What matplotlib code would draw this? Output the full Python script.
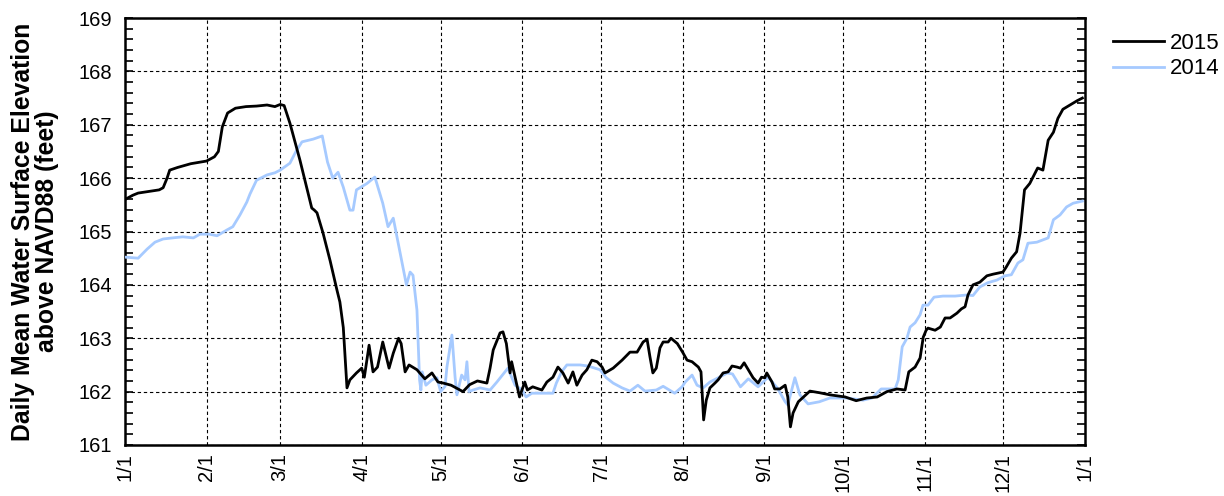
import matplotlib
matplotlib.use("Agg")
import matplotlib.pyplot as plt
from matplotlib.ticker import MultipleLocator
import numpy as np

plt.rcParams['font.family'] = ['Liberation Sans', 'DejaVu Sans']

# Day-of-year positions and values
days_2015 = [0, 3, 5, 9, 13, 14.5, 16, 17, 20, 25, 31, 34, 35.5, 37, 39, 42, 46, 50, 54, 57, 59, 60.5,
             62.7, 66.5, 71, 72, 73, 75.3, 78, 80.6, 81.7, 83, 84.4, 85.5, 88, 90, 91, 92.8, 94.3, 96,
             98, 100.4, 102, 104, 105, 106.5, 108, 111, 114, 116.7, 119, 121, 124, 128.5, 131, 134,
             137.6, 138.8, 140, 142.6, 143.7, 145, 146.4, 147, 148.3, 150, 152, 153, 155, 158.5, 160.4,
             162.7, 164.6, 166.5, 168.5, 170.3, 171.8, 173.8, 175.6, 177.5, 179.5, 181.4, 182.5, 185.6,
             189, 192, 194.7, 197, 198.5, 199.6, 200.7, 202, 203.4, 204.6, 206.5, 207.6, 210, 212,
             213.7, 215.6, 218, 219, 220, 221, 222.4, 224.3, 225.5, 227.4, 229.3, 230.8, 232.7, 234,
             235.4, 237, 238.8, 240.7, 242, 243.3, 244, 246, 247, 249, 251, 252, 253, 254, 256, 258,
             260.4, 264, 268, 273.8, 278, 282, 286, 289.7, 293.5, 296.6, 298, 300.4, 302.3, 303.5,
             304.6, 305.3, 308, 310, 311.8, 313.7, 316.3, 318, 319.4, 320.5, 322.4, 325, 327.7, 330,
             333.8, 335, 337, 339, 340.3, 342, 344, 347, 349, 351, 353, 354.7, 356.6, 359.3, 362, 364]
elev_2015 = [165.6, 165.68, 165.72, 165.75, 165.78, 165.82, 166.0, 166.15, 166.2, 166.27, 166.32, 166.4,
             166.5, 166.96, 167.22, 167.31, 167.34, 167.35, 167.37, 167.34, 167.38, 167.36,
             167.03, 166.34, 165.44, 165.4, 165.35, 164.97, 164.45, 163.9, 163.68, 163.2, 162.07, 162.22,
             162.35, 162.44, 162.27, 162.87, 162.37, 162.46,
             162.93, 162.44, 162.72, 163.0, 162.9, 162.37, 162.5, 162.41, 162.24, 162.35, 162.18, 162.16,
             162.12, 162.0, 162.13, 162.2,
             162.16, 162.44, 162.78, 163.1, 163.12, 162.9, 162.35, 162.56, 162.27, 161.9, 162.18, 162.03,
             162.09, 162.03, 162.18,
             162.27, 162.46, 162.35, 162.16, 162.37, 162.12, 162.31, 162.41, 162.59, 162.56, 162.46,
             162.35, 162.44,
             162.59, 162.74, 162.74, 162.93, 162.98, 162.65, 162.35, 162.44, 162.82, 162.93, 162.93,
             163.0, 162.9, 162.74,
             162.59, 162.56, 162.46, 162.37, 161.47, 161.84, 162.07, 162.16, 162.22, 162.35, 162.37,
             162.48, 162.46, 162.44,
             162.54, 162.41, 162.26, 162.16, 162.27, 162.26, 162.35, 162.18, 162.05, 162.05, 162.12,
             161.9, 161.34, 161.6, 161.81, 161.9,
             162.01, 161.98, 161.94, 161.9, 161.83, 161.88, 161.9, 162.0, 162.05, 162.03, 162.37, 162.46,
             162.63, 163.02,
             163.15, 163.19, 163.15, 163.21, 163.38, 163.38, 163.47, 163.55, 163.59, 163.81, 164.0, 164.05,
             164.17, 164.2,
             164.24, 164.33, 164.5, 164.62, 164.97, 165.78, 165.9, 166.19, 166.15, 166.71, 166.86, 167.12,
             167.29, 167.37, 167.45, 167.5]

days_2014 = [0, 5, 8.4, 11.4, 14.5, 18, 22, 26, 28.5, 32, 35, 38.8, 41, 43.7, 46.3, 47.5, 50, 54, 57, 59,
             62.7, 65, 67.3, 71.5, 75, 77, 79, 81, 83, 85.5, 86.7, 88, 92, 95, 98, 100, 102, 104.6, 107,
             108.4, 109.5, 111, 112, 112.5, 113, 114.4, 116.7, 118.6, 120, 121.7, 122.4, 124.3, 125.5,
             126.2, 128, 129.3, 130, 130.8, 132.3, 135, 138.8, 141.4, 144.5, 145.6, 147, 148.3, 151,
             152.5, 154.7, 162.7, 164, 166, 168, 173, 176, 180.6, 183, 185.6, 189, 192, 195, 197.7, 202,
             204.6, 209, 211.8, 213, 215.6, 217.5, 219.8, 222.4, 226, 229, 231, 234, 237, 240.7, 244.5,
             248, 251, 252, 254.7, 256.6, 259.7, 264, 268, 274.5, 280.6, 284, 287.5, 292.8, 294, 295.5,
             297.3, 298.5, 300.4, 302.3, 303.4, 305.3, 307.6, 311, 315.6, 320, 322.4, 325, 328, 331.5,
             334.6, 337, 339.5, 341.4, 343.3, 346.7, 351, 353, 355.5, 358, 360.5, 364]
elev_2014 = [164.52, 164.5, 164.67, 164.8, 164.86, 164.88, 164.9, 164.88, 164.95, 164.95, 164.92, 165.03,
             165.09, 165.31, 165.55, 165.7, 165.96, 166.06, 166.1, 166.15,
             166.28, 166.5, 166.68, 166.73, 166.79, 166.3, 166.0, 166.11, 165.83, 165.4, 165.4, 165.78,
             165.9, 166.02, 165.53, 165.09, 165.25, 164.6, 164.0,
             164.24, 164.18, 163.53, 162.22, 162.03, 162.37, 162.12, 162.22, 162.26, 162.0, 162.1, 162.46,
             163.06, 162.27,
             161.94, 162.31, 162.22, 162.56, 162.0, 162.03, 162.07, 162.03, 162.18, 162.37, 162.44, 162.27,
             162.12, 162.03,
             161.9, 161.97, 161.97, 162.16, 162.37, 162.5, 162.5, 162.48, 162.41, 162.26, 162.16, 162.07,
             162.01, 162.12, 162.01, 162.03,
             162.1, 161.97, 162.09, 162.18, 162.31, 162.12, 162.07, 162.18, 162.27, 162.35, 162.33, 162.09,
             162.24, 162.09, 162.27,
             162.07, 161.81, 161.75, 162.26, 161.94, 161.77, 161.81, 161.88, 161.88, 161.84, 161.88, 162.05,
             162.05, 162.22, 162.84,
             163.0, 163.21, 163.29, 163.44, 163.62, 163.62, 163.77, 163.79, 163.79, 163.81, 163.8, 163.96,
             164.04, 164.09,
             164.17, 164.19, 164.41, 164.47, 164.78, 164.8, 164.88, 165.22, 165.31, 165.46, 165.53, 165.57]

month_starts = [0, 31, 59, 90, 120, 151, 181, 212, 243, 273, 304, 334, 365]
month_labels = ["1/1", "2/1", "3/1", "4/1", "5/1", "6/1", "7/1", "8/1", "9/1", "10/1", "11/1", "12/1", "1/1"]
y_ticks = [161, 162, 163, 164, 165, 166, 167, 168, 169]

fig = plt.figure(figsize=(12.24, 4.96), dpi=100)
ax = fig.add_axes([125/1224, 1 - 445/496, (1085-125)/1224, (445-18)/496])

ax.plot(days_2015, elev_2015, color='black', lw=2.0, label='2015', zorder=4)
ax.plot(days_2014, elev_2014, color='#a6caff', lw=2.0, label='2014', zorder=3)

ax.set_xlim(0, 365)
ax.set_ylim(161, 169)
ax.set_xticks(month_starts)
ax.set_xticklabels(month_labels, rotation=90, fontsize=14.5)
ax.set_yticks(y_ticks)
ax.set_yticklabels([str(v) for v in y_ticks], fontsize=14.5)
ax.yaxis.set_minor_locator(MultipleLocator(0.2))
ax.tick_params(axis='y', which='both', direction='in', left=True, right=True, width=1.2)
ax.tick_params(axis='y', which='major', length=6, pad=9)
ax.tick_params(axis='y', which='minor', length=6)
ax.tick_params(axis='x', which='major', direction='in', length=0, pad=6)

ax.grid(True, which='major', color='black', linestyle=(0, (3, 2.5)), lw=0.8)
for s in ax.spines.values():
    s.set_linewidth(1.8)

ax.set_ylabel("Daily Mean Water Surface Elevation\nabove NAVD88 (feet)", fontsize=17.8,
              fontweight='bold', labelpad=14, linespacing=1.0)

ax.legend(loc='upper left', bbox_to_anchor=(1104/1224, 1 - 24/496), bbox_transform=fig.transFigure,
          frameon=False, fontsize=16, handlelength=2.3, handletextpad=0.25, labelspacing=0.2,
          borderaxespad=0)

fig.savefig("out.png", dpi=100)
